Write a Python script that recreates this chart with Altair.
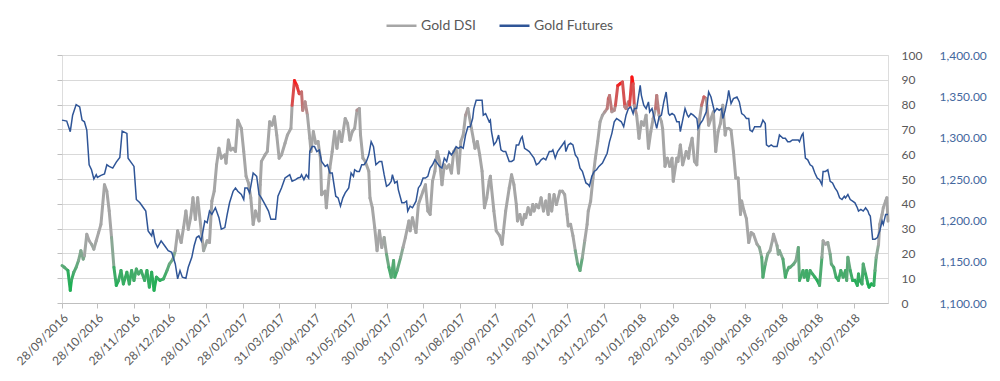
import altair as alt
import pandas as pd

start_date = "2016-09-28"
end_date = "2018-08-29"

dsi_days = [0, 2, 5, 7, 8, 10, 12, 14, 16, 18, 19, 21, 23, 25, 27, 29, 31, 33, 36, 38, 40, 42, 44, 46, 48, 50,
            52, 55, 57, 59, 61, 63, 65, 67, 70, 72, 74, 76, 78, 80, 83, 86, 89, 91, 94, 96, 98, 101, 103, 105,
            107, 109, 111, 113, 115, 118, 120, 123, 125, 127, 129, 131, 133, 135, 138, 139, 141, 143, 145, 147,
            149, 152, 154, 156, 158, 160, 162, 164, 167, 168, 169, 172, 174, 176, 178, 180, 182, 184, 186, 189,
            191, 194, 195, 197, 199, 201, 203, 204, 206, 208, 210, 211, 213, 215, 217, 219, 220, 223, 224, 225,
            227, 229, 231, 233, 235, 237, 240, 242, 244, 246, 248, 250, 252, 253, 255, 257, 260, 261, 263, 265,
            267, 269, 271, 273, 275, 277, 279, 281, 282, 284, 287, 289, 291, 294, 295, 297, 300, 302, 304, 306,
            308, 310, 312, 314, 316, 318, 320, 322, 324, 326, 328, 330, 332, 334, 336, 338, 340, 342, 344, 347,
            349, 350, 352, 354, 356, 358, 360, 362, 363, 364, 366, 368, 371, 373, 374, 376, 379, 381, 383, 385,
            386, 388, 390, 392, 393, 395, 397, 399, 400, 402, 404, 406, 408, 410, 412, 413, 415, 417, 419, 422,
            424, 426, 428, 429, 431, 433, 435, 437, 439, 441, 443, 445, 446, 448, 450, 452, 454, 456, 458, 460,
            462, 463, 464, 466, 468, 469, 471, 473, 475, 477, 478, 480, 481, 483, 484, 485, 487, 489, 491, 493,
            495, 497, 499, 501, 503, 504, 506, 508, 509, 511, 513, 515, 517, 518, 521, 522, 524, 526, 529, 531,
            532, 534, 536, 538, 540, 542, 544, 546, 548, 550, 552, 554, 556, 558, 560, 562, 563, 565, 567, 569,
            571, 573, 575, 576, 578, 580, 582, 584, 586, 589, 591, 593, 594, 596, 598, 600, 602, 603, 606, 607,
            608, 611, 613, 614, 616, 617, 620, 622, 624, 625, 628, 629, 631, 632, 634, 636, 638, 640, 642, 644,
            645, 647, 649, 651, 652, 654, 656, 658, 660, 662, 664, 665, 666, 668, 670, 672, 674, 675, 676, 678,
            679, 681, 683, 684, 686, 688, 689, 690, 692, 693, 695, 696, 698, 699, 700]
dsi_values = [15.1, 14.4, 13.1, 5.1, 9.1, 12.4, 14.4, 17.1, 21.1, 17.7, 19.1, 27.7, 25.1, 23.7, 21.7, 25.1, 28.4,
              31.7, 47.7, 45.1, 37.1, 26.4, 14.4, 7.1, 9.1, 13.1, 7.7, 12.4, 7.7, 13.1, 9.1, 13.7, 11.7, 13.1, 9.1,
              13.1, 6.4, 12.4, 5.1, 10.4, 9.1, 9.7, 13.1, 15.7, 17.7, 21.1, 29.1, 24.4, 30.4, 37.1, 29.7, 34.4, 42.4,
              33.7, 42.4, 29.1, 21.1, 25.1, 24.4, 41.1, 45.1, 55.7, 62.4, 58.4, 59.7, 56.4, 65.7, 61.7, 62.4, 61.1,
              73.7, 70.4, 61.1, 51.1, 48.4, 42.4, 31.7, 37.1, 33.1, 47.7, 57.1, 59.7, 61.1, 73.1, 71.7, 75.1, 67.7,
              58.4, 59.7, 64.4, 67.7, 70.4, 79.7, 89.7, 87.7, 84.4, 85.1, 77.7, 81.1, 75.7, 66.4, 61.1, 69.1, 64.4,
              65.1, 58.4, 43.7, 45.1, 38.4, 43.7, 54.4, 61.1, 69.1, 62.4, 69.1, 65.1, 74.4, 72.4, 65.7, 69.1, 70.4,
              77.7, 78.4, 67.7, 58.4, 57.1, 53.1, 42.4, 38.4, 30.4, 21.1, 29.1, 22.4, 26.4, 19.7, 14.4, 10.4, 17.1,
              10.4, 13.1, 18.4, 22.4, 26.4, 33.1, 29.1, 34.4, 28.4, 39.7, 42.4, 45.1, 47.7, 37.1, 35.7, 49.1, 53.1,
              61.1, 57.1, 47.7, 55.7, 54.4, 55.7, 52.4, 61.1, 62.4, 52.4, 65.1, 67.7, 75.7, 78.4, 70.4, 65.1, 62.4,
              65.1, 59.7, 53.1, 38.4, 42.4, 49.1, 51.1, 46.4, 37.1, 29.1, 27.1, 23.7, 28.4, 37.1, 46.4, 51.7, 47.7,
              39.7, 33.1, 35.7, 31.7, 35.7, 34.4, 38.4, 35.7, 39.7, 37.1, 39.7, 38.4, 42.4, 37.1, 41.1, 35.7, 43.7,
              37.1, 43.7, 39.7, 45.1, 45.1, 43.7, 35.7, 31.1, 31.7, 27.1, 21.1, 15.7, 13.1, 18.4, 25.1, 31.7, 37.1,
              41.1, 50.4, 58.4, 65.1, 73.1, 75.7, 77.1, 78.4, 82.4, 83.7, 77.1, 77.7, 79.7, 87.7, 88.4, 89.1, 79.1,
              78.4, 81.1, 79.7, 91.1, 88.4, 79.7, 75.7, 66.4, 73.1, 71.7, 75.7, 62.4, 69.1, 74.4, 78.4, 83.7, 75.7,
              73.1, 70.4, 55.1, 58.4, 55.1, 58.4, 49.1, 58.4, 57.1, 63.7, 55.7, 61.1, 58.4, 62.4, 66.4, 57.1, 55.7,
              73.1, 79.7, 83.1, 82.4, 71.7, 74.4, 77.1, 61.1, 69.1, 72.4, 79.7, 67.7, 70.4, 70.4, 69.7, 61.1, 50.4,
              50.4, 35.7, 41.1, 37.1, 34.0, 24.4, 28.4, 27.7, 23.7, 22.4, 18.4, 10.4, 15.7, 19.7, 21.1, 25.1, 27.7,
              23.1, 19.7, 21.1, 17.7, 10.4, 12.4, 14.4, 14.4, 15.7, 17.1, 22.4, 9.1, 13.1, 10.4, 13.1, 9.1, 13.1,
              11.7, 10.4, 9.1, 7.1, 18.4, 25.1, 23.7, 24.4, 19.7, 15.7, 14.4, 10.4, 9.1, 13.1, 10.4, 13.1, 9.1, 18.4,
              13.1, 9.1, 9.1, 7.1, 11.7, 9.1, 7.7, 15.7, 11.7, 7.7, 6.4, 7.7, 7.1, 13.1, 18.4, 23.7, 31.7, 35.7, 38.4,
              41.1, 42.4, 33.0]

fut_days = [0, 4, 7, 9, 12, 15, 17, 19, 21, 23, 25, 27, 29, 30, 33, 36, 38, 40, 43, 46, 49, 51, 55, 56, 59, 61,
            63, 66, 69, 71, 73, 76, 77, 79, 81, 84, 87, 90, 93, 96, 98, 100, 102, 105, 107, 110, 112, 114, 116, 118,
            121, 123, 125, 127, 130, 133, 135, 138, 140, 142, 145, 147, 149, 152, 154, 155, 157, 159, 162, 165, 167,
            169, 172, 175, 177, 180, 181, 183, 186, 189, 191, 193, 195, 198, 200, 202, 203, 205, 207, 209, 210, 212,
            214, 216, 218, 220, 223, 225, 227, 229, 232, 234, 236, 238, 240, 243, 245, 247, 248, 250, 252, 254, 256,
            258, 260, 262, 264, 266, 269, 271, 273, 275, 277, 279, 280, 282, 284, 285, 288, 290, 292, 293, 295, 297,
            300, 302, 304, 306, 308, 310, 312, 314, 316, 318, 320, 322, 324, 326, 328, 330, 332, 334, 336, 338, 340,
            342, 344, 346, 348, 349, 351, 354, 356, 357, 359, 362, 363, 364, 366, 368, 370, 372, 374, 376, 379, 381,
            383, 385, 387, 389, 390, 392, 394, 396, 398, 400, 402, 404, 406, 408, 410, 413, 415, 416, 418, 420, 422,
            424, 426, 427, 429, 431, 433, 435, 437, 439, 441, 444, 446, 447, 449, 451, 453, 455, 458, 460, 462, 464,
            466, 468, 470, 472, 474, 476, 478, 480, 482, 484, 485, 487, 490, 491, 493, 495, 497, 498, 500, 502, 504,
            506, 508, 510, 512, 514, 515, 517, 519, 521, 523, 524, 526, 528, 530, 531, 533, 535, 538, 539, 541, 543,
            546, 548, 550, 551, 553, 555, 557, 559, 560, 562, 564, 565, 567, 569, 572, 574, 576, 578, 580, 582, 583,
            585, 587, 589, 592, 594, 596, 597, 599, 601, 603, 606, 608, 611, 613, 615, 617, 619, 622, 624, 625, 627,
            628, 630, 632, 634, 636, 638, 640, 642, 644, 645, 647, 649, 651, 653, 655, 657, 659, 661, 663, 664, 666,
            668, 670, 672, 674, 675, 677, 679, 681, 683, 684, 685, 687, 689, 691, 693, 695, 696, 698, 700]
fut_values = [1321.2, 1320.0, 1307.2, 1327.2, 1340.0, 1337.2, 1321.2, 1319.2, 1309.2, 1267.2, 1261.2, 1250.0,
              1255.2, 1252.0, 1254.4, 1256.0, 1267.2, 1265.2, 1263.2, 1270.4, 1276.0, 1308.0, 1305.2, 1275.2,
              1269.2, 1265.2, 1225.2, 1221.2, 1215.2, 1211.2, 1187.2, 1181.2, 1189.2, 1173.2, 1167.2, 1175.2,
              1169.2, 1163.2, 1161.2, 1147.2, 1129.2, 1139.2, 1131.2, 1130.0, 1143.2, 1155.2, 1169.2, 1179.2,
              1181.2, 1175.2, 1199.2, 1197.2, 1211.2, 1207.2, 1215.2, 1203.2, 1189.2, 1191.2, 1207.2, 1221.2,
              1235.2, 1239.2, 1235.2, 1231.2, 1225.2, 1239.2, 1239.2, 1233.2, 1257.2, 1253.2, 1231.2, 1227.2,
              1219.2, 1211.2, 1201.2, 1201.2, 1201.2, 1229.2, 1239.2, 1251.2, 1253.2, 1255.2, 1247.2, 1249.2,
              1251.2, 1252.0, 1255.2, 1249.2, 1255.2, 1251.2, 1283.2, 1289.2, 1289.2, 1283.2, 1285.2, 1271.2,
              1265.2, 1267.2, 1257.2, 1257.2, 1229.2, 1227.2, 1217.2, 1227.2, 1233.2, 1239.2, 1257.2, 1253.2,
              1261.2, 1259.2, 1259.2, 1267.2, 1267.2, 1271.2, 1279.2, 1295.2, 1289.2, 1267.2, 1271.2, 1271.2,
              1255.2, 1241.2, 1243.2, 1247.2, 1255.2, 1245.2, 1247.2, 1237.2, 1221.2, 1221.2, 1223.2, 1211.2,
              1217.2, 1215.2, 1223.2, 1239.2, 1243.2, 1251.2, 1251.2, 1253.2, 1263.2, 1267.2, 1273.2, 1269.2,
              1265.2, 1263.2, 1275.2, 1271.2, 1283.2, 1279.2, 1283.2, 1289.2, 1287.2, 1289.2, 1287.2, 1303.2,
              1313.2, 1313.2, 1323.2, 1335.2, 1345.2, 1345.2, 1345.2, 1327.2, 1329.2, 1319.2, 1321.2, 1307.2,
              1291.2, 1295.2, 1303.2, 1285.2, 1283.2, 1283.2, 1271.2, 1271.2, 1273.2, 1291.2, 1291.2, 1299.2,
              1301.2, 1287.2, 1285.2, 1283.2, 1279.2, 1275.2, 1267.2, 1269.2, 1273.2, 1275.2, 1273.2, 1283.2,
              1283.2, 1285.2, 1275.2, 1283.2, 1287.2, 1291.2, 1295.2, 1283.2, 1291.2, 1293.2, 1291.2, 1279.2,
              1275.2, 1263.2, 1259.2, 1245.2, 1243.2, 1241.2, 1253.2, 1259.2, 1261.2, 1265.2, 1269.2, 1275.2,
              1281.2, 1295.2, 1305.2, 1319.2, 1323.2, 1321.2, 1319.2, 1313.2, 1327.2, 1335.2, 1337.2, 1329.2,
              1335.2, 1335.2, 1363.2, 1351.2, 1339.2, 1335.2, 1343.2, 1331.2, 1335.2, 1323.2, 1311.2, 1325.2,
              1327.2, 1343.2, 1355.2, 1329.2, 1327.2, 1329.2, 1327.2, 1319.2, 1319.2, 1307.2, 1321.2, 1335.2,
              1327.2, 1325.2, 1329.2, 1327.2, 1323.2, 1311.2, 1317.2, 1321.2, 1331.2, 1355.2, 1349.2, 1343.2,
              1331.2, 1335.2, 1333.2, 1335.2, 1323.2, 1333.2, 1347.2, 1357.2, 1341.2, 1347.2, 1349.2, 1343.2,
              1329.2, 1327.2, 1323.2, 1323.2, 1309.2, 1307.2, 1313.2, 1313.2, 1313.2, 1321.2, 1317.2, 1291.2,
              1289.2, 1291.2, 1289.2, 1289.2, 1303.2, 1299.2, 1299.2, 1295.2, 1295.2, 1297.2, 1297.2, 1297.2,
              1295.2, 1303.2, 1305.2, 1275.2, 1273.2, 1267.2, 1265.2, 1257.2, 1251.2, 1249.2, 1243.2, 1259.2,
              1259.2, 1261.2, 1247.2, 1245.2, 1239.2, 1235.2, 1227.2, 1225.2, 1229.2, 1227.2, 1231.2, 1225.2,
              1223.2, 1221.2, 1215.2, 1211.2, 1213.2, 1211.2, 1215.2, 1211.2, 1207.2, 1205.2, 1177.2, 1177.2,
              1179.2, 1187.2, 1199.2, 1195.2, 1207.2, 1207.2]

tick_dates = ["2016-09-28", "2016-10-28", "2016-11-28", "2016-12-28", "2017-01-28", "2017-02-28",
              "2017-03-31", "2017-04-30", "2017-05-31", "2017-06-30", "2017-07-31", "2017-08-31",
              "2017-09-30", "2017-10-31", "2017-11-30", "2017-12-31", "2018-01-31", "2018-02-28",
              "2018-03-31", "2018-04-30", "2018-05-31", "2018-06-30", "2018-07-31"]
dsi_ticks = [0, 10, 20, 30, 40, 50, 60, 70, 80, 90, 100]
fut_ticks = [1100, 1150, 1200, 1250, 1300, 1350, 1400]
series_names = ["Gold DSI", "Gold Futures"]

GRAY = "#a6a6a6"
BLUE = "#2f5597"
TEXT = "#595959"
FONT = "Lato"

start = pd.Timestamp(start_date)


def to_dates(days):
    return [(start + pd.Timedelta(days=d)).strftime("%Y-%m-%d") for d in days]


def dt(s):
    t = pd.Timestamp(s)
    return alt.DateTime(year=t.year, month=t.month, date=t.day, utc=True)


dsi = pd.DataFrame({"date": to_dates(dsi_days), "dsi": dsi_values})
dsi["date2"] = dsi["date"].shift(-1)
dsi["dsi2"] = dsi["dsi"].shift(-1)
dsi = dsi.dropna().reset_index(drop=True)
dsi["mid"] = (dsi["dsi"] + dsi["dsi2"]) / 2

fut = pd.DataFrame({"date": to_dates(fut_days), "price": fut_values, "series": "Gold Futures"})

x_scale = alt.Scale(type="utc", domain=[dt(start_date), dt(end_date)])
x_axis = alt.Axis(values=[dt(s) for s in tick_dates], format="%d/%m/%Y", labelAngle=-45,
                  labelFontSize=12, labelColor=TEXT, labelFont=FONT, tickSize=5, tickColor="#bfbfbf",
                  domainColor="#bfbfbf", grid=False, labelPadding=4, title=None, labelOverlap=False,
                  labelFlush=False, labelBound=False)
x_enc = alt.X("date:T", scale=x_scale, axis=x_axis)

dsi_scale = alt.Scale(domain=[0, 100], nice=False, zero=False)

segments = alt.Chart(dsi).mark_rule(strokeWidth=3, strokeCap="round").encode(
    x=x_enc,
    x2="date2:T",
    y=alt.Y("dsi:Q", scale=dsi_scale,
            axis=alt.Axis(orient="right", values=dsi_ticks, grid=True, gridColor="#d9d9d9",
                          ticks=False, domain=False, labelPadding=13, labelAlign="left",
                          labelColor=TEXT, labelFont=FONT, labelFontSize=12, title=None)),
    y2="dsi2:Q",
    color=alt.Color("mid:Q", legend=None,
                    scale=alt.Scale(domain=[6, 12, 24, 76, 82, 90],
                                    range=["#14b04e", "#48ab6c", GRAY, GRAY, "#c66a6a", "#ff1010"],
                                    interpolate="rgb")),
)

left_ticks = alt.Chart(dsi).mark_point(opacity=0).encode(
    x=x_enc,
    y=alt.Y("dsi:Q", scale=dsi_scale,
            axis=alt.Axis(orient="left", values=dsi_ticks, grid=False, labels=False, ticks=True,
                          tickSize=5, tickColor="#bfbfbf", domain=False, title=None)),
)

futures = alt.Chart(fut).mark_line(strokeWidth=1.5).encode(
    x=x_enc,
    y=alt.Y("price:Q", scale=alt.Scale(domain=[1100, 1400], nice=False, zero=False),
            axis=alt.Axis(orient="right", values=fut_ticks, format=",.2f", grid=False, ticks=False,
                          domain=False, offset=40, labelPadding=11, labelAlign="left",
                          labelColor="#44689e", labelFont=FONT, labelFontSize=12, title=None)),
    color=alt.Color("series:N",
                    scale=alt.Scale(domain=series_names, range=[GRAY, BLUE]),
                    legend=alt.Legend(orient="none", legendX=323, legendY=-46, direction="horizontal",
                                      title=None, symbolType="stroke", symbolSize=900,
                                      symbolStrokeWidth=2.5, labelFontSize=14, labelColor=TEXT,
                                      labelFont=FONT, columnPadding=18, labelOffset=3)),
)

chart = alt.layer(segments, left_ticks, futures).resolve_scale(
    y="independent", color="independent"
).properties(
    width=826, height=248,
    autosize=alt.AutoSizeParams(type="none"),
    padding={"left": 54, "top": 47, "right": 104, "bottom": 70},
).configure_view(stroke="#bfbfbf", strokeWidth=1).configure(background="white")

chart.save("out.html", embed_options={"renderer": "svg", "actions": False})
